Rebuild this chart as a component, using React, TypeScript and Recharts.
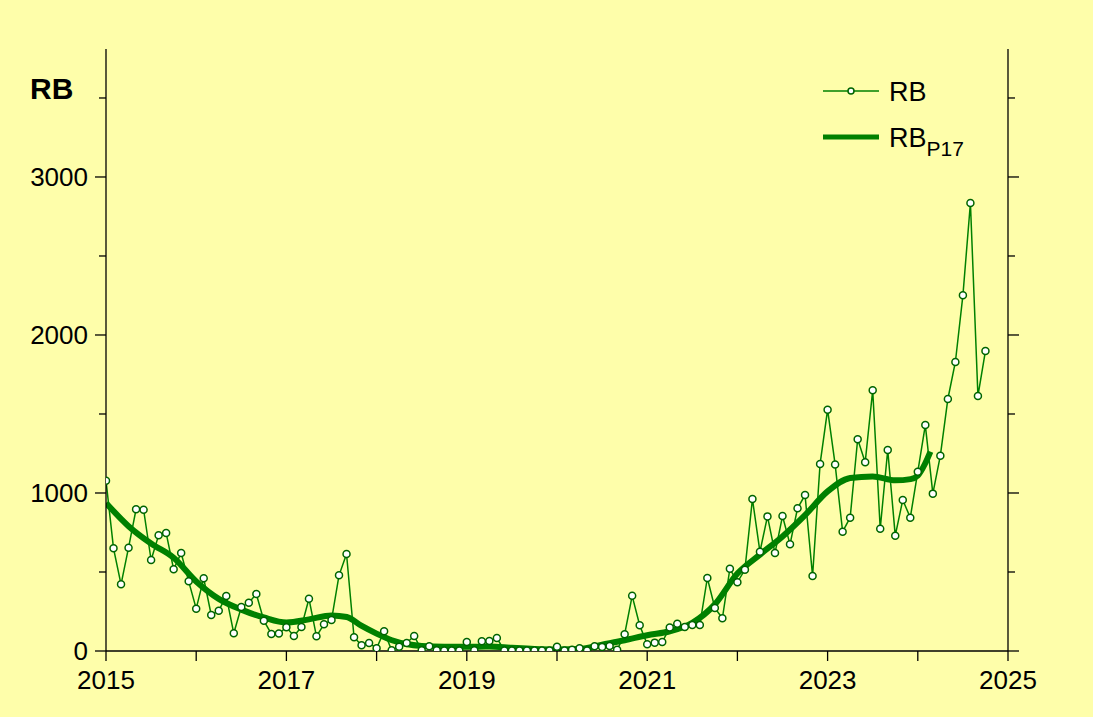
import { LineChart, Line, XAxis, YAxis, Legend } from 'recharts'

// monthly RB values, Jan 2015 .. Oct 2024
const START_YEAR = 2015
const rbValues = [
  1078, 650, 422, 654, 897, 894, 576, 732, 747, 517, 620, 441,
  268, 460, 228, 255, 348, 112, 278, 306, 361, 192, 108, 110,
  150, 95, 152, 331, 93, 169, 196, 479, 614, 87, 36, 51,
  17, 125, 4, 27, 51, 95, 4, 30, 5, 3, 3, 3,
  57, 5, 61, 63, 82, 3, 3, 3, 3, 3, 3, 3,
  27, 3, 8, 17, 3, 30, 25, 32, 8, 106, 349, 163,
  42, 53, 57, 148, 173, 152, 165, 165, 462, 272, 207, 521,
  435, 515, 962, 628, 852, 620, 854, 675, 903, 987, 475, 1184,
  1527, 1181, 755, 844, 1340, 1194, 1650, 774, 1272, 730, 956, 844,
  1135, 1430, 996, 1236, 1595, 1829, 2251, 2835, 1614, 1899,
]

// smoothed curve RB_P17
const smoothYears = [
  2015.0, 2015.25, 2015.5, 2015.75, 2016.0, 2016.25, 2016.5, 2016.75,
  2017.0, 2017.25, 2017.5, 2017.67, 2017.83, 2018.0, 2018.17, 2018.33,
  2018.5, 2018.75, 2019.0, 2019.25, 2019.5, 2019.75, 2020.0, 2020.25,
  2020.5, 2020.75, 2021.0, 2021.25, 2021.5, 2021.75, 2022.0, 2022.25,
  2022.5, 2022.75, 2023.0, 2023.25, 2023.5, 2023.75, 2023.92, 2024.0,
  2024.08, 2024.14,
]
const smoothValues = [
  937, 790, 680, 590, 440, 330, 262, 212,
  180, 200, 225, 215, 160, 110, 68, 44,
  32, 27, 27, 28, 20, 13, 10, 12,
  40, 68, 100, 125, 178, 295, 490, 610,
  725, 860, 1010, 1095, 1105, 1080, 1088, 1110,
  1185, 1262,
]

const xTicks = [2015, 2016, 2017, 2018, 2019, 2020, 2021, 2022, 2023, 2024, 2025]
const yTicks = [0, 500, 1000, 1500, 2000, 2500, 3000, 3500]
const Y_MAX = 3810

const rbData = rbValues.map((v, i) => ({ t: START_YEAR + i / 12, rb: v }))
const smoothData = smoothYears.map((t, i) => ({ t, p17: smoothValues[i] }))

const BG = '#FEFEAA'
const GREEN = '#008000'
const FONT = '"Liberation Sans", Arial, sans-serif'

function LeftTick({ x, y, payload }: any) {
  const major = payload.value % 1000 === 0
  return (
    <g>
      <line x1={x - (major ? 11 : 7)} x2={x} y1={y} y2={y} stroke="#000" strokeWidth={1.3} />
      {major && (
        <text x={x - 18} y={y} dy="0.36em" textAnchor="end" fontSize={26} fill="#000" fontFamily={FONT}>
          {payload.value}
        </text>
      )}
    </g>
  )
}

function RightTick({ x, y, payload }: any) {
  const major = payload.value % 1000 === 0
  return <line x1={x} x2={x + (major ? 11 : 7)} y1={y} y2={y} stroke="#000" strokeWidth={1.3} />
}

function BottomTick({ x, y, payload }: any) {
  const labelled = (payload.value - 2015) % 2 === 0
  return (
    <g>
      <line x1={x} x2={x} y1={y} y2={y + 10} stroke="#000" strokeWidth={1.3} />
      {labelled && (
        <text x={x} y={y + 38} textAnchor="middle" fontSize={26} fill="#000" fontFamily={FONT}>
          {payload.value}
        </text>
      )}
    </g>
  )
}

function AxisTitle() {
  return (
    <text x={30} y={99} fontSize={30} fontWeight="bold" fill="#000" fontFamily={FONT}>
      RB
    </text>
  )
}

function LegendBox() {
  return (
    <svg width={200} height={100} style={{ overflow: 'visible' }}>
      <line x1={8} x2={64} y1={21} y2={21} stroke={GREEN} strokeWidth={1.5} />
      <circle cx={36} cy={21} r={3} fill="#fff" stroke="#006400" strokeWidth={1.5} />
      <text x={74} y={31} fontSize={27} fill="#000" fontFamily={FONT}>RB</text>
      <line x1={8} x2={64} y1={67} y2={67} stroke={GREEN} strokeWidth={5} />
      <text x={74} y={77} fontSize={27} fill="#000" fontFamily={FONT}>
        RB
        <tspan fontSize={21} dy={9}>P17</tspan>
      </text>
    </svg>
  )
}

export default function App() {
  return (
    <div style={{ position: 'absolute', left: 0, top: 0, width: 1093, height: 717, background: BG }}>
      <LineChart
        width={1093}
        height={717}
        margin={{ top: 49, right: 65, left: 46, bottom: 26 }}
        style={{ fontFamily: FONT }}
      >
        <XAxis
          type="number"
          dataKey="t"
          domain={[2015, 2025]}
          ticks={xTicks}
          interval={0}
          allowDataOverflow
          height={40}
          tickSize={0}
          tickMargin={0}
          tickLine={false}
          axisLine={{ stroke: '#000', strokeWidth: 1.3 }}
          tick={<BottomTick />}
        />
        <XAxis
          xAxisId="top"
          orientation="top"
          type="number"
          domain={[2015, 2025]}
          allowDataOverflow
          height={0}
          tick={false}
          tickLine={false}
          axisLine={{ stroke: '#000', strokeWidth: 1.3 }}
        />
        <YAxis
          type="number"
          domain={[0, Y_MAX]}
          ticks={yTicks}
          interval={0}
          allowDataOverflow
          width={60}
          tickSize={0}
          tickMargin={0}
          tickLine={false}
          axisLine={{ stroke: '#000', strokeWidth: 1.3 }}
          tick={<LeftTick />}
          label={<AxisTitle />}
        />
        <YAxis
          yAxisId="right"
          orientation="right"
          type="number"
          domain={[0, Y_MAX]}
          ticks={yTicks}
          interval={0}
          allowDataOverflow
          width={20}
          tickSize={0}
          tickMargin={0}
          tickLine={false}
          axisLine={{ stroke: '#000', strokeWidth: 1.3 }}
          tick={<RightTick />}
        />
        <Legend
          layout="horizontal"
          verticalAlign="middle"
          align="center"
          wrapperStyle={{ left: 815, top: 70, width: 200, height: 100 }}
          content={<LegendBox />}
        />
        <Line
          data={smoothData}
          type="monotone"
          dataKey="p17"
          stroke={GREEN}
          strokeWidth={6}
          dot={false}
          isAnimationActive={false}
        />
        <Line
          data={rbData}
          type="linear"
          dataKey="rb"
          stroke={GREEN}
          strokeWidth={1.5}
          dot={{ r: 3.5, fill: '#fff', stroke: '#006400', strokeWidth: 1.5 }}
          isAnimationActive={false}
        />
      </LineChart>
    </div>
  )
}
